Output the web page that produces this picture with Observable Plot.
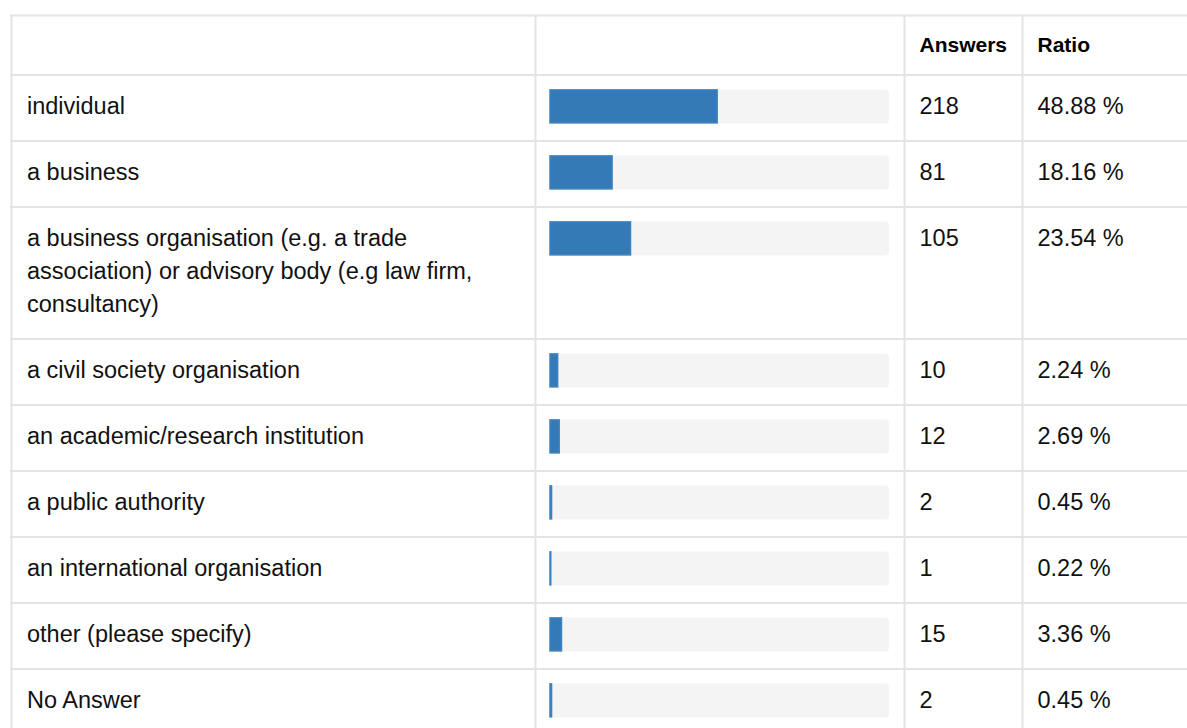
<!DOCTYPE html>
<html>
<head>
<meta charset="utf-8">
<script src="https://cdn.jsdelivr.net/npm/d3@7"></script>
<script src="https://cdn.jsdelivr.net/npm/@observablehq/plot@0.6"></script>
<style>
  html, body { margin: 0; padding: 0; background: #ffffff; }
</style>
</head>
<body>
<div id="chart"></div>
<script>
// ---- Data ----
const categories = [
  "individual",
  "a business",
  "a business organisation (e.g. a trade\nassociation) or advisory body (e.g law firm,\nconsultancy)",
  "a civil society organisation",
  "an academic/research institution",
  "a public authority",
  "an international organisation",
  "other (please specify)",
  "No Answer"
];
const answers = [218, 81, 105, 10, 12, 2, 1, 15, 2];
const ratios = [48.88, 18.16, 23.54, 2.24, 2.69, 0.45, 0.22, 3.36, 0.45];
const headerAnswers = "Answers";
const headerRatio = "Ratio";

// ---- Layout (row units: one text line) ----
const LINE = 33;            // px per line unit
const HEADER_UNITS = 1.8;   // header row height in line units
let cursor = HEADER_UNITS;
const rows = categories.map((label, i) => {
  const lines = label.split("\n").length;
  const r = {label, answers: answers[i], ratio: ratios[i], top: cursor, bottom: cursor + lines + 1};
  cursor = r.bottom;
  return r;
});
const total = cursor;
const boundaries = [0, HEADER_UNITS, ...rows.map(r => r.bottom)];
const header = [{a: headerAnswers, r: headerRatio}];

const gridColor = "#e4e4e4";
const textColor = "#111111";
const font = "'Liberation Sans', Arial, Helvetica, sans-serif";
const textY = d => d.top + 15.6 / LINE;

const chart = Plot.plot({
  width: 1187,
  height: 728,
  marginTop: 15,
  marginBottom: 0,
  marginLeft: 10,
  marginRight: 0,
  style: {fontFamily: font, background: "#ffffff", overflow: "hidden"},
  x: {domain: [0, 100], range: [550, 892], axis: null},
  y: {domain: [0, total], range: [15, 15 + total * LINE], axis: null},
  marks: [
    // grid
    Plot.ruleY(boundaries, {stroke: gridColor, strokeWidth: 2}),
    Plot.ruleX([0], {dx: -539, stroke: gridColor, strokeWidth: 2}),
    Plot.ruleX([0], {dx: -15, stroke: gridColor, strokeWidth: 2}),
    Plot.ruleX([100], {dx: 12, stroke: gridColor, strokeWidth: 2}),
    Plot.ruleX([100], {dx: 130, stroke: gridColor, strokeWidth: 2}),
    // progress tracks
    Plot.rect(rows, {
      x1: 0, x2: 100, y1: "top", y2: d => d.top + 2,
      insetTop: 15, insetBottom: 17, insetLeft: -1, insetRight: 3,
      fill: "#f4f4f4", rx: 4
    }),
    // bars
    Plot.rect(rows, {
      x1: 0, x2: "ratio", y1: "top", y2: d => d.top + 2,
      insetTop: 15.5, insetBottom: 17.5,
      fill: "#337ab7", stroke: "#3f82bd", strokeWidth: 1.5
    }),
    // header
    Plot.text(header, {
      x: 100, y: 36.5 / LINE, text: "a", dx: 27, textAnchor: "start", lineAnchor: "bottom",
      fontSize: 21, fontWeight: "bold", fill: "#000000"
    }),
    Plot.text(header, {
      x: 100, y: 36.5 / LINE, text: "r", dx: 145, textAnchor: "start", lineAnchor: "bottom",
      fontSize: 21, fontWeight: "bold", fill: "#000000"
    }),
    // labels
    Plot.text(rows, {
      x: 0, y: textY, text: "label", dx: -523.5, textAnchor: "start", lineAnchor: "top",
      lineHeight: LINE / 23.5, fontSize: 23.5, fill: textColor
    }),
    // answers
    Plot.text(rows, {
      x: 100, y: textY, text: d => String(d.answers), dx: 27, textAnchor: "start", lineAnchor: "top",
      lineHeight: LINE / 23.5, fontSize: 23.5, fill: textColor
    }),
    // ratio
    Plot.text(rows, {
      x: 100, y: textY, text: d => d.ratio.toFixed(2) + " %", dx: 145, textAnchor: "start", lineAnchor: "top",
      lineHeight: LINE / 23.5, fontSize: 23.5, fill: textColor
    })
  ]
});
document.getElementById("chart").appendChild(chart);
</script>
</body>
</html>
